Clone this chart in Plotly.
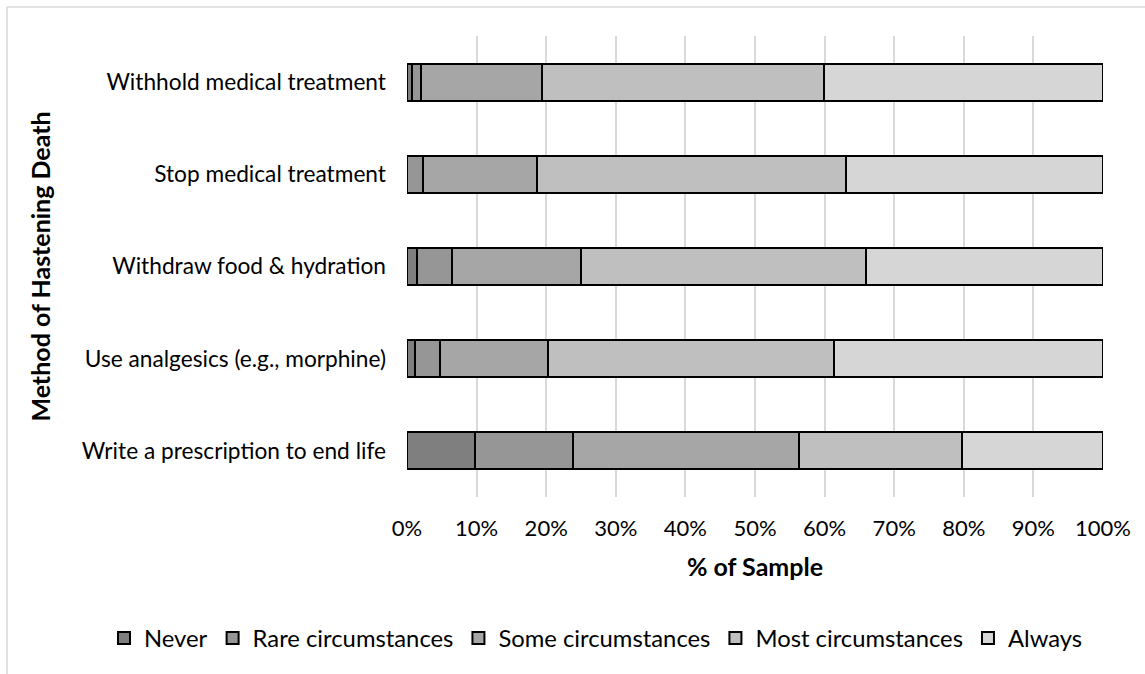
import plotly.graph_objects as go

# Methods of hastening death, listed top to bottom
methods = [
    "Withhold medical treatment",
    "Stop medical treatment",
    "Withdraw food & hydration",
    "Use analgesics (e.g., morphine)",
    "Write a prescription to end life",
]

# Response shares (% of sample) per method
never = [0.7, 0.0, 1.5, 1.1, 9.7]
rare = [1.3, 2.3, 5.0, 3.6, 14.2]
some = [17.4, 16.4, 18.5, 15.5, 32.4]
most = [40.5, 44.4, 41.0, 41.2, 23.5]
always = [40.1, 36.9, 34.0, 38.6, 20.2]

series = [
    ("Never", never, "#7f7f7f"),
    ("Rare circumstances", rare, "#969696"),
    ("Some circumstances", some, "#a6a6a6"),
    ("Most circumstances", most, "#bfbfbf"),
    ("Always", always, "#d6d6d6"),
]

x_ticks = [0, 10, 20, 30, 40, 50, 60, 70, 80, 90, 100]
x_tick_text = [f"{t}%" for t in x_ticks]

FONT = "Lato, 'Open Sans', sans-serif"
ML, MT = 407, 36
PLOT_W = 696
PLOT_H = 461

fig = go.Figure()
for name, vals, color in series:
    fig.add_trace(go.Bar(
        y=methods, x=vals, name=name, orientation="h",
        marker=dict(color=color, line=dict(color="#000000", width=2)),
        width=0.4,
    ))

fig.update_layout(
    barmode="stack",
    width=1145, height=674,
    margin=dict(l=ML, r=42, t=MT, b=177, autoexpand=False),
    paper_bgcolor="white", plot_bgcolor="white",
    font=dict(family=FONT, color="#000000", size=22),
    xaxis=dict(
        range=[0, 100], tickvals=x_ticks, ticktext=x_tick_text,
        showgrid=True, gridcolor="#d9d9d9", gridwidth=2,
        zeroline=False, showline=False, automargin=False,
        tickfont=dict(size=22), ticks="", ticklabelstandoff=16,
        title=dict(text="<b>% of Sample</b>", font=dict(size=25), standoff=18),
    ),
    yaxis=dict(
        categoryorder="array", categoryarray=methods, autorange="reversed",
        showgrid=False, zeroline=False, showline=False, automargin=False,
        tickfont=dict(size=22.7), ticks="", ticklabelstandoff=20,
        title=dict(text="<b>Method of Hastening Death</b>", font=dict(size=25), standoff=24),
    ),
    legend=dict(
        orientation="h",
        x=(104 - ML) / PLOT_W, xanchor="left",
        y=-(638 - MT - PLOT_H) / PLOT_H, yanchor="middle",
        font=dict(size=23.8), traceorder="normal",
    ),
    showlegend=True,
    shapes=[
        dict(type="line", xref="paper", yref="paper", x0=-400 / PLOT_W, x1=-400 / PLOT_W,
             y0=-1, y1=1 + 29 / PLOT_H, line=dict(color="#d9d9d9", width=1.5)),
        dict(type="line", xref="paper", yref="paper", x0=-400 / PLOT_W, x1=2,
             y0=1 + 29 / PLOT_H, y1=1 + 29 / PLOT_H, line=dict(color="#d9d9d9", width=1.5)),
    ],
)

fig.write_html("out.html")
